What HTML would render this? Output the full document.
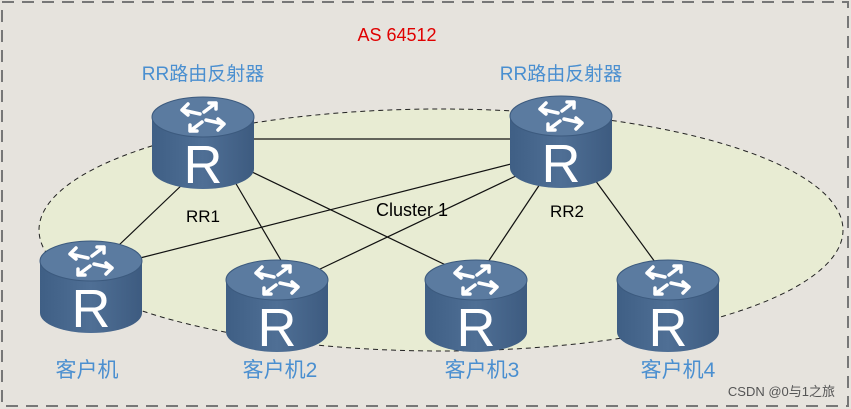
<!DOCTYPE html>
<html><head><meta charset="utf-8"><style>
html,body{margin:0;padding:0;background:#e6e3dd;}
svg{display:block}
</style></head><body>
<svg width="851" height="409" viewBox="0 0 851 409" xmlns="http://www.w3.org/2000/svg">
<defs>
<linearGradient id="bd" x1="0" x2="1" y1="0" y2="0">
<stop offset="0" stop-color="#3f5f85"/><stop offset="0.5" stop-color="#4f6f95"/><stop offset="1" stop-color="#3d5b80"/>
</linearGradient>
<g id="rt">
<path d="M0,20 L0,72 A51,20 0 0 0 102,72 L102,20 Z" fill="url(#bd)"/>
<ellipse cx="51" cy="20" rx="51" ry="20" fill="#5b7ba0" stroke="#3c5a7e" stroke-width="1"/>
<g stroke="#fff" stroke-width="3.5" fill="none" stroke-linecap="round">
<path d="M30,13 L48,17 M30,13 L36,7 M30,13 L36,18"/>
<path d="M72,27 L54,23 M72,27 L66,22 M72,27 L66,33"/>
<path d="M64,6 L52,15 M64,6 L57,6 M64,6 L64,12"/>
<path d="M38,34 L50,25 M38,34 L45,34 M38,34 L38,28"/>
</g>
<text x="51" y="86" font-family="Liberation Sans, sans-serif" font-size="54" fill="#fff" text-anchor="middle">R</text>
</g>
</defs>
<rect x="2" y="2" width="846" height="404" fill="#e6e3dd" stroke="#777" stroke-width="2" stroke-dasharray="12,8"/>
<ellipse cx="441" cy="230" rx="402" ry="121" fill="#e8ecd3" stroke="#222" stroke-width="1" stroke-dasharray="5,4"/>
<g stroke="#111" stroke-width="1.2">
<line x1="250" y1="139" x2="515" y2="139"/>
<line x1="185" y1="182" x2="118" y2="246"/>
<line x1="235" y1="182" x2="282" y2="262"/>
<line x1="252" y1="172" x2="452" y2="268"/>
<line x1="515" y1="163" x2="140" y2="258"/>
<line x1="518" y1="175" x2="318" y2="270"/>
<line x1="540" y1="184" x2="488" y2="262"/>
<line x1="595" y1="180" x2="655" y2="262"/>
</g>
<use href="#rt" x="152" y="97"/>
<use href="#rt" x="510" y="96"/>
<use href="#rt" x="40" y="241"/>
<use href="#rt" x="226" y="260"/>
<use href="#rt" x="425" y="260"/>
<use href="#rt" x="617" y="260"/>
<g font-family="Liberation Sans, 'Noto Sans CJK SC', sans-serif">
<text x="397" y="41" font-size="18" fill="#e00000" text-anchor="middle">AS 64512</text>
<text x="203" y="80" font-size="19" fill="#4a8fd0" text-anchor="middle">RR路由反射器</text>
<text x="561" y="80" font-size="19" fill="#4a8fd0" text-anchor="middle">RR路由反射器</text>
<text x="203" y="222" font-size="17" fill="#000" text-anchor="middle">RR1</text>
<text x="567" y="217" font-size="17" fill="#000" text-anchor="middle">RR2</text>
<text x="412" y="216" font-size="18" fill="#000" text-anchor="middle">Cluster 1</text>
<text x="87" y="377" font-size="21" fill="#4a8fd0" text-anchor="middle">客户机</text>
<text x="280" y="377" font-size="21" fill="#4a8fd0" text-anchor="middle">客户机2</text>
<text x="482" y="377" font-size="21" fill="#4a8fd0" text-anchor="middle">客户机3</text>
<text x="678" y="377" font-size="21" fill="#4a8fd0" text-anchor="middle">客户机4</text>
<text x="835" y="396" font-size="13" fill="#555" text-anchor="end">CSDN @0与1之旅</text>
</g>
</svg>
</body></html>
